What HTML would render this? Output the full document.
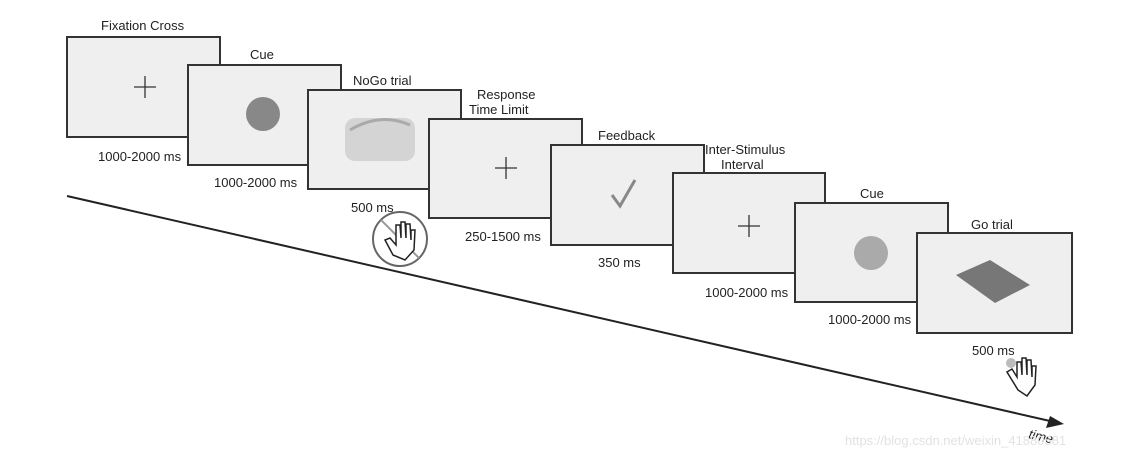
<!DOCTYPE html>
<html><head><style>body{margin:0;background:#fff}svg{display:block}text{font-family:"Liberation Sans",sans-serif;font-size:13px;fill:#222}</style></head><body>
<svg width="1128" height="459" viewBox="0 0 1128 459">
<line x1="67" y1="196" x2="1050" y2="421" stroke="#222" stroke-width="2"/>
<polygon points="1064,424 1046,428 1050,416" fill="#222"/>
<text x="1028" y="438" font-style="italic" font-size="11" transform="rotate(13 1028 438)">time</text>
<g stroke="#333" stroke-width="2" fill="#efefef">
<rect x="67" y="37" width="153" height="100"/>
<rect x="188" y="65" width="153" height="100"/>
<rect x="308" y="90" width="153" height="99"/>
<rect x="429" y="119" width="153" height="99"/>
<rect x="551" y="145" width="153" height="100"/>
<rect x="673" y="173" width="152" height="100"/>
<rect x="795" y="203" width="153" height="99"/>
<rect x="917" y="233" width="155" height="100"/>
</g>
<g stroke="#333" stroke-width="1.3">
<line x1="134" y1="87" x2="156" y2="87"/><line x1="145" y1="76" x2="145" y2="98"/>
<line x1="495" y1="168" x2="517" y2="168"/><line x1="506" y1="157" x2="506" y2="179"/>
<line x1="738" y1="226" x2="760" y2="226"/><line x1="749" y1="215" x2="749" y2="237"/>
</g>
<circle cx="263" cy="114" r="17" fill="#888"/>
<circle cx="871" cy="253" r="17" fill="#aaa"/>
<rect x="345" y="118" width="70" height="43" rx="10" fill="#d4d4d4"/>
<path d="M350 130 Q380 112 410 125" stroke="#aaa" stroke-width="3" fill="none"/>
<path d="M612 195 L620 206 L635 180" stroke="#888" stroke-width="3" fill="none"/>
<polygon points="956,275 990,260 1030,285 995,303" fill="#777"/>
<circle cx="400" cy="239" r="27" fill="none" stroke="#666" stroke-width="2"/>
<line x1="381" y1="220" x2="419" y2="258" stroke="#999" stroke-width="2"/>
<path d="M393 255 L385 240 L390 238 L396 245 L396 225 L400 225 L401 238 L401 222 L405 222 L406 238 L406 224 L410 224 L411 240 L411 230 L415 230 L414 250 L405 260 Z" fill="#fff" stroke="#222" stroke-width="1.5"/>
<path d="M1018 390 L1007 372 L1012 369 L1017 377 L1017 362 L1021 362 L1022 375 L1022 358 L1026 358 L1027 375 L1027 360 L1031 360 L1032 377 L1032 366 L1036 366 L1035 385 L1027 396 Z" fill="#fff" stroke="#222" stroke-width="1.5"/>
<circle cx="1011" cy="363" r="5" fill="#bbb"/>
<text x="101" y="30">Fixation Cross</text>
<text x="250" y="59">Cue</text>
<text x="353" y="85">NoGo trial</text>
<text x="477" y="99">Response</text>
<text x="469" y="114">Time Limit</text>
<text x="598" y="140">Feedback</text>
<text x="705" y="154">Inter-Stimulus</text>
<text x="721" y="169">Interval</text>
<text x="860" y="198">Cue</text>
<text x="971" y="229">Go trial</text>
<text x="98" y="161">1000-2000 ms</text>
<text x="214" y="187">1000-2000 ms</text>
<text x="351" y="212">500 ms</text>
<text x="465" y="241">250-1500 ms</text>
<text x="598" y="267">350 ms</text>
<text x="705" y="297">1000-2000 ms</text>
<text x="828" y="324">1000-2000 ms</text>
<text x="972" y="355">500 ms</text>
<text x="845" y="445" font-size="14" style="fill:#e2e2e2">https://blog.csdn.net/weixin_41880581</text>
</svg></body></html>
